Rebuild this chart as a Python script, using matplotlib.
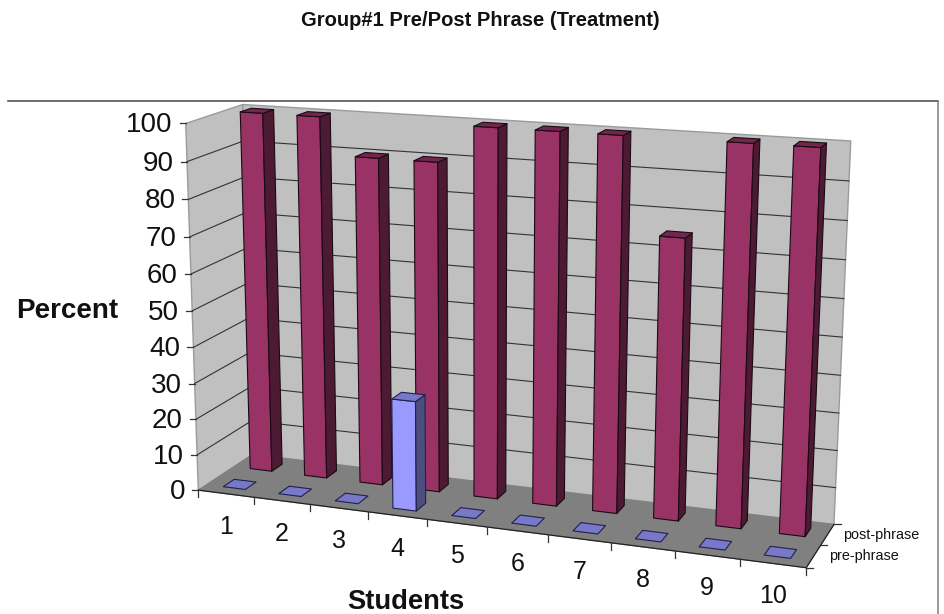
import matplotlib
matplotlib.use('Agg')
import matplotlib.pyplot as plt
import numpy as np

plt.rcParams['font.family'] = ['Liberation Sans', 'DejaVu Sans']

students = ['1', '2', '3', '4', '5', '6', '7', '8', '9', '10']
pre_phrase = [0, 0, 0, 30, 0, 0, 0, 0, 0, 0]
post_phrase = [100, 100, 90, 90, 100, 100, 100, 75, 100, 100]
percent_ticks = [0, 10, 20, 30, 40, 50, 60, 70, 80, 90, 100]

C_WALL = '#c0c0c0'
C_WALL_EDGE = '#9a9a9a'
C_FLOOR = '#808080'
C_GRID = '#333333'
C_POST_EDGE = '#1a0a14'
C_PRE_EDGE = '#20204a'
# front, side, top shades of each series
C_POST = ('#993366', '#4d1a33', '#73264d')
C_PRE = ('#9999ff', '#4d4d80', '#7878c8')

GAP = 0.3      # free space each side of a column, in category widths
BAND = 0.15    # same thing along the depth axis

# camera calibration: (category pos, depth, percent) -> figure pixels
cal_world = np.array([
    [0, 0, 0], [0, 0, 30], [0, 0, 60], [0, 0, 100],
    [0, 1, 0], [0, 1, 100], [10, 1, 0], [10, 1, 100],
    [10, 0, 0], [4, 0, 0], [8, 0, 0], [9, 0, 0],
], dtype=float)
cal_px = np.array([
    [199.3, 488.3], [194.3, 383.3], [191.5, 274.3], [185.0, 123.3],
    [251.7, 456.0], [243.3, 104.3], [834.3, 522.7], [850.7, 141.3],
    [806.7, 567.3], [426.7, 520.0], [674.3, 552.0], [739.3, 560.0],
])


def fit_camera(world, px):
    """Direct linear transform for a 3x4 projection matrix."""
    rows = []
    for (x, d, v), (u, w) in zip(world, px / 1000):
        p = [x / 10, d, v / 100, 1]
        rows.append(p + [0, 0, 0, 0] + [-u * c for c in p])
        rows.append([0, 0, 0, 0] + p + [-w * c for c in p])
    return np.linalg.svd(np.array(rows))[2][-1].reshape(3, 4)


CAMERA = fit_camera(cal_world, cal_px)


def project(x, d, v):
    h = CAMERA @ np.array([x / 10, d, v / 100, 1.0])
    return h[0] / h[2] * 1000, h[1] / h[2] * 1000


def face(ax, corners, color, edge, lw=0.8, zorder=3):
    pts = [project(*c) for c in corners]
    ax.fill(*zip(*pts), facecolor=color, edgecolor=edge, linewidth=lw,
            joinstyle='round', zorder=zorder)


def draw_column(ax, pos, depth, value, shades, edge):
    x0, x1 = pos + GAP, pos + 1 - GAP
    d0, d1 = depth + BAND, depth + 0.5 - BAND
    front, side, top = shades
    if value > 0:
        face(ax, [(x0, d0, 0), (x1, d0, 0), (x1, d0, value), (x0, d0, value)], front, edge)
        face(ax, [(x1, d0, 0), (x1, d1, 0), (x1, d1, value), (x1, d0, value)], side, edge)
    face(ax, [(x0, d0, value), (x1, d0, value), (x1, d1, value), (x0, d1, value)], top, edge)


fig = plt.figure(figsize=(9.45, 6.14), dpi=100, facecolor='white')
ax = fig.add_axes([0, 0, 1, 1])
ax.set_xlim(0, 945)
ax.set_ylim(614, 0)
ax.axis('off')

# chart frame
ax.plot([8, 938], [101, 101], color='#444444', lw=1.1, zorder=1)
ax.plot([938, 938], [101, 614], color='#808080', lw=1.1, zorder=1)

# walls and floor
n = len(students)
top = percent_ticks[-1]
face(ax, [(0, 0, 0), (0, 1, 0), (0, 1, top), (0, 0, top)], C_WALL, C_WALL_EDGE, 1.0, 1)
face(ax, [(0, 1, 0), (n, 1, 0), (n, 1, top), (0, 1, top)], C_WALL, C_WALL_EDGE, 1.0, 1)
face(ax, [(0, 0, 0), (n, 0, 0), (n, 1, 0), (0, 1, 0)], C_FLOOR, C_FLOOR, 0.8, 1.5)

# gridlines run along both walls
for v in percent_ticks[1:-1]:
    pts = [project(0, 0, v), project(0, 1, v), project(n, 1, v)]
    ax.plot(*zip(*pts), color=C_GRID, lw=0.8, zorder=2)

# axis lines and ticks
pts = [project(0, 0, 0), project(n, 0, 0), project(n, 1, 0)]
ax.plot(*zip(*pts), color='#222222', lw=0.9, zorder=2)
for v in percent_ticks:
    px, py = project(0, 0, v)
    ax.plot([px - 6, px], [py, py], color='#333333', lw=0.9, zorder=2)
    ax.text(px - 13, py + 2, str(v), fontsize=20, ha='right', va='center',
            color='#111111')
for i in range(n + 1):
    px, py = project(i, 0, 0)
    ax.plot([px, px], [py, py + 7], color='#333333', lw=0.9, zorder=2)
for d in (0, 0.5, 1):
    px, py = project(n, d, 0)
    ax.plot([px, px + 7], [py, py], color='#333333', lw=0.9, zorder=2)

# columns, back row first so the front row paints over it
for i, value in enumerate(post_phrase):
    draw_column(ax, i, 0.5, value, C_POST, C_POST_EDGE)
for i, value in enumerate(pre_phrase):
    draw_column(ax, i, 0.0, value, C_PRE, C_PRE_EDGE)

for i, name in enumerate(students):
    px, py = project(i + 0.5, 0, 0)
    ax.text(px, py + 33, name, fontsize=18, ha='center', va='center',
            color='#111111')

for label, d in (('pre-phrase', 0.25), ('post-phrase', 0.75)):
    px, py = project(n, d, 0)
    ax.text(px + 16, py, label, fontsize=10.4, ha='left', va='center',
            color='#111111')

ax.text(480, 21, 'Group#1 Pre/Post Phrase (Treatment)', fontsize=14.5, fontweight='bold',
        ha='center', va='center', color='#111111')
ax.text(67, 311, 'Percent', fontsize=20, fontweight='bold', ha='center', va='center',
        color='#111111')
ax.text(406, 602, 'Students', fontsize=19.7, fontweight='bold', ha='center', va='center',
        color='#111111')

fig.savefig('out.png', dpi=100)
